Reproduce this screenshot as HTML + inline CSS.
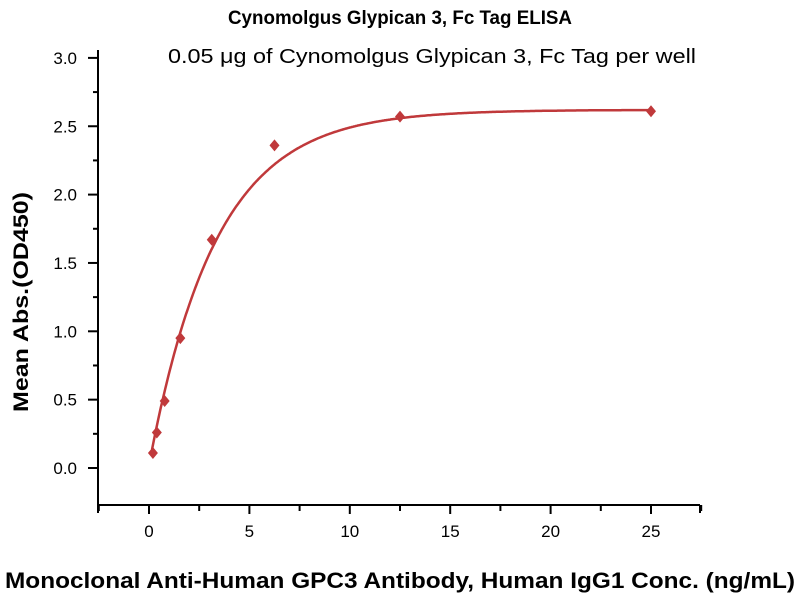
<!DOCTYPE html>
<html><head><meta charset="utf-8"><style>
body{margin:0;background:#fff;}
svg{display:block;font-family:"Liberation Sans",sans-serif;}
</style></head><body>
<svg id="s" width="800" height="600" xmlns="http://www.w3.org/2000/svg">
<text x="400" y="24" text-anchor="middle" font-size="19" font-weight="bold" textLength="344" lengthAdjust="spacingAndGlyphs">Cynomolgus Glypican 3, Fc Tag ELISA</text>
<text x="432" y="63" text-anchor="middle" font-size="20" textLength="528" lengthAdjust="spacingAndGlyphs">0.05 μg of Cynomolgus Glypican 3, Fc Tag per well</text>
<text x="400" y="588" text-anchor="middle" font-size="22" font-weight="bold" textLength="790" lengthAdjust="spacingAndGlyphs">Monoclonal Anti-Human GPC3 Antibody, Human IgG1 Conc. (ng/mL)</text>
<text transform="translate(28,302) rotate(-90)" text-anchor="middle" font-size="21" font-weight="bold" textLength="220" lengthAdjust="spacingAndGlyphs">Mean Abs.(OD450)</text>
<g id="ax" stroke="#000" stroke-width="2" fill="none"></g>
<g id="lb" font-size="17" fill="#000"></g>
<path id="c" stroke="#c0393b" stroke-width="2.5" fill="none"/>
<g id="pts" fill="#c0393b"></g>
</svg>
<script>
var X=function(v){return 149+v*20.08},Y=function(v){return 468-v*136.7};
var ns="http://www.w3.org/2000/svg",ax=document.getElementById('ax'),lb=document.getElementById('lb');
function el(p,t,a,txt){var e=document.createElementNS(ns,t);for(var k in a)e.setAttribute(k,a[k]);if(txt)e.textContent=txt;p.appendChild(e);}
el(ax,'path',{d:'M98,50 V505 H700'});
for(var i=0;i<=12;i++){var v=i*0.25,y=Y(v);el(ax,'line',{x1:98,x2:i%2?93:88,y1:y,y2:y});if(i%2==0)el(lb,'text',{x:77,y:y+6,'text-anchor':'end'},v.toFixed(1));}
el(ax,'line',{x1:98,x2:98,y1:505,y2:513});
for(var i=-1;i<=11;i++){var v=i*2.5,x=X(v);el(ax,'line',{x1:x,x2:x,y1:505,y2:i%2?511:514});if(i>=0&&i%2==0)el(lb,'text',{x:x,y:537,'text-anchor':'middle'},String(v));}
el(ax,'line',{x1:700,x2:700,y1:505,y2:513});
var d='';for(var x=0.15;x<=25;x+=0.05){var y=0.02+2.6*(1-Math.exp(-0.3*x));d+=(d?'L':'M')+X(x).toFixed(1)+','+Y(y).toFixed(1);}
document.getElementById('c').setAttribute('d',d);
[[0.195,0.11],[0.39,0.26],[0.78,0.49],[1.56,0.95],[3.125,1.67],[6.25,2.36],[12.5,2.57],[25,2.61]].forEach(function(p){var x=X(p[0]),y=Y(p[1]);el(document.getElementById('pts'),'path',{d:'M'+x+','+(y-6)+'L'+(x+5)+','+y+'L'+x+','+(y+6)+'L'+(x-5)+','+y+'Z'});});
</script>
</body></html>
